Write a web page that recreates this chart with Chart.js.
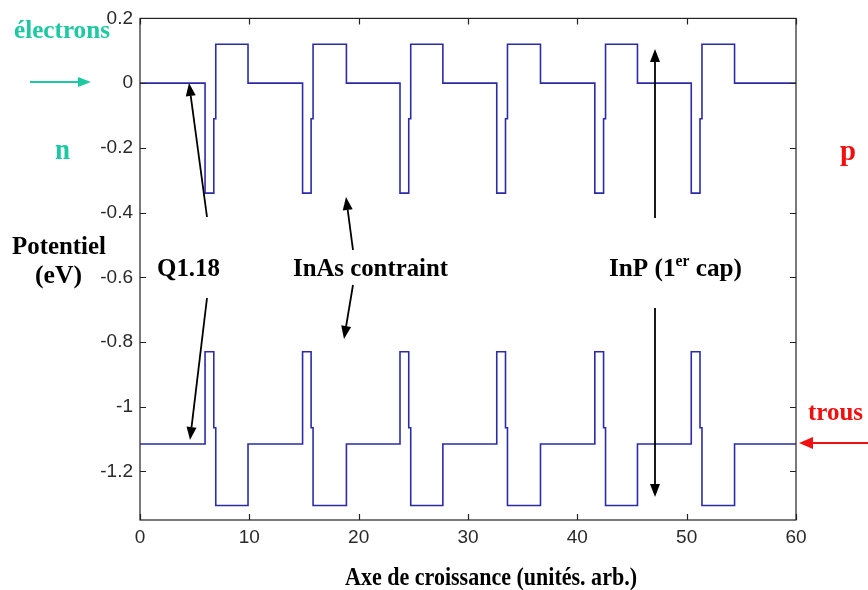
<!DOCTYPE html>
<html>
<head>
<meta charset="utf-8">
<script src="https://cdn.jsdelivr.net/npm/chart.js@4.4.1/dist/chart.umd.min.js"></script>
<style>
  html, body { margin: 0; padding: 0; background: #fff; }
</style>
</head>
<body>
<canvas id="bandChart" width="868" height="590"></canvas>
<script>
// marches : la valeur vaut y[i] à partir de x[i] (jusqu'au point suivant)
var posX = [0, 5.95, 6.75, 6.93, 9.88, 14.87, 15.65, 15.83, 18.88, 23.78, 24.58, 24.76, 27.7,
            32.63, 33.43, 33.61, 36.63, 41.6, 42.4, 42.58, 45.5, 50.42, 51.22, 51.4, 54.38, 60];
// bande de conduction (électrons)
var bcValues = [0, -0.34, -0.11, 0.12, 0, -0.34, -0.11, 0.12, 0, -0.34, -0.11, 0.12, 0,
                -0.34, -0.11, 0.12, 0, -0.34, -0.11, 0.12, 0, -0.34, -0.11, 0.12, 0, 0];
// bande de valence (trous)
var bvValues = [-1.115, -0.83, -1.065, -1.305, -1.115, -0.83, -1.065, -1.305, -1.115, -0.83, -1.065, -1.305, -1.115,
                -0.83, -1.065, -1.305, -1.115, -0.83, -1.065, -1.305, -1.115, -0.83, -1.065, -1.305, -1.115, -1.115];
var xTicks = [0, 10, 20, 30, 40, 50, 60];
var yTicks = [0.2, 0, -0.2, -0.4, -0.6, -0.8, -1, -1.2];

var TEAL = '#1ec8a0';
var ROUGE = '#f01010';
var SERIF = '"Liberation Serif", "Times New Roman", serif';

function points(xs, ys) {
    return xs.map(function (x, i) { return { x: x, y: ys[i] }; });
}

// texte gras, bord gauche x, ligne de base y, étiré à la largeur voulue
function texte(ctx, str, x, y, size, color, width) {
    ctx.save();
    ctx.font = 'bold ' + size + 'px ' + SERIF;
    ctx.fillStyle = color;
    ctx.textAlign = 'left';
    ctx.textBaseline = 'alphabetic';
    var w = ctx.measureText(str).width;
    ctx.translate(x, y);
    ctx.scale(width ? width / w : 1, 1);
    ctx.fillText(str, 0, 0);
    ctx.restore();
}

function fleche(ctx, x1, y1, x2, y2, color, head, half) {
    var a = Math.atan2(y2 - y1, x2 - x1);
    var bx = x2 - head * Math.cos(a), by = y2 - head * Math.sin(a);
    ctx.save();
    ctx.strokeStyle = color;
    ctx.fillStyle = color;
    ctx.lineWidth = 1.8;
    ctx.beginPath();
    ctx.moveTo(x1, y1);
    ctx.lineTo(bx, by);
    ctx.stroke();
    ctx.beginPath();
    ctx.moveTo(x2, y2);
    ctx.lineTo(bx + half * Math.sin(a), by - half * Math.cos(a));
    ctx.lineTo(bx - half * Math.sin(a), by + half * Math.cos(a));
    ctx.closePath();
    ctx.fill();
    ctx.restore();
}

var cadre = {
    id: 'cadre',
    afterDatasetsDraw: function (chart) {
        var ctx = chart.ctx, a = chart.chartArea;
        var sx = chart.scales.x, sy = chart.scales.y;
        ctx.save();
        ctx.strokeStyle = '#222';
        ctx.lineWidth = 1.2;
        ctx.strokeRect(a.left, a.top, a.right - a.left, a.bottom - a.top);
        ctx.beginPath();
        xTicks.forEach(function (v) {
            var p = Math.round(sx.getPixelForValue(v)) + 0.5;
            ctx.moveTo(p, a.bottom); ctx.lineTo(p, a.bottom - 6);
            ctx.moveTo(p, a.top); ctx.lineTo(p, a.top + 6);
        });
        yTicks.forEach(function (v) {
            var p = Math.round(sy.getPixelForValue(v)) + 0.5;
            ctx.moveTo(a.left, p); ctx.lineTo(a.left + 6, p);
            ctx.moveTo(a.right, p); ctx.lineTo(a.right - 6, p);
        });
        ctx.stroke();
        ctx.restore();
    },
    afterDraw: function (chart) {
        var ctx = chart.ctx;
        // côté n
        texte(ctx, 'électrons', 14, 38, 26, TEAL, 96);
        fleche(ctx, 30, 82, 91, 82, TEAL, 13, 5);
        texte(ctx, 'n', 55, 159, 30, TEAL, 15);
        // côté p
        texte(ctx, 'p', 840, 160, 30, ROUGE, 16);
        texte(ctx, 'trous', 808, 420, 25, ROUGE, 55);
        fleche(ctx, 868, 443, 799, 443, ROUGE, 14, 6);
        // axe vertical
        texte(ctx, 'Potentiel', 12, 254, 26, '#000', 94);
        texte(ctx, '(eV)', 35, 283, 26, '#000', 47);
        // couches
        texte(ctx, 'Q1.18', 157, 276, 26, '#000', 63);
        fleche(ctx, 207, 217, 189, 83, '#000', 13, 5);
        fleche(ctx, 207, 298, 190, 440, '#000', 13, 5);
        texte(ctx, 'InAs contraint', 293, 276, 26, '#000', 155);
        fleche(ctx, 353, 250, 346, 197, '#000', 13, 5);
        fleche(ctx, 353, 285, 344, 339, '#000', 13, 5);
        // InP (1er cap)
        ctx.save();
        ctx.font = 'bold 26px ' + SERIF;
        var w1 = ctx.measureText('InP (1').width, w3 = ctx.measureText(' cap)').width;
        ctx.font = 'bold 16px ' + SERIF;
        var w2 = ctx.measureText('er').width;
        ctx.restore();
        var k = 133 / (w1 + w2 + w3);
        texte(ctx, 'InP (1', 609, 276, 26, '#000', w1 * k);
        texte(ctx, 'er', 609 + w1 * k, 266, 16, '#000', w2 * k);
        texte(ctx, ' cap)', 609 + (w1 + w2) * k, 276, 26, '#000', w3 * k);
        fleche(ctx, 655, 218, 655, 49, '#000', 13, 5);
        fleche(ctx, 655, 308, 655, 497, '#000', 13, 5);
        // titre axe x
        texte(ctx, 'Axe de croissance (unités. arb.)', 345, 585, 25, '#000', 292);
    }
};

var tickFont = { family: '"Liberation Sans Narrow", "Liberation Sans", Arial, sans-serif', size: 19 };

new Chart(document.getElementById('bandChart').getContext('2d'), {
    type: 'line',
    data: {
        datasets: [{
            label: 'Bande de conduction',
            data: points(posX, bcValues),
            stepped: true,
            borderColor: '#2b2baa',
            borderWidth: 1.6,
            pointRadius: 0,
            fill: false
        }, {
            label: 'Bande de valence',
            data: points(posX, bvValues),
            stepped: true,
            borderColor: '#2b2baa',
            borderWidth: 1.6,
            pointRadius: 0,
            fill: false
        }]
    },
    options: {
        responsive: false,
        animation: false,
        layout: { padding: { top: 17, right: 72, left: 0, bottom: 0 } },
        plugins: {
            legend: { display: false },
            tooltip: { enabled: false }
        },
        scales: {
            x: {
                type: 'linear',
                min: 0,
                max: 60,
                afterFit: function (s) { s.height = 70; },
                afterBuildTicks: function (s) { s.ticks = xTicks.map(function (v) { return { value: v }; }); },
                grid: { display: false, drawTicks: false },
                border: { display: false },
                ticks: { color: '#2a2a2a', padding: 6, font: tickFont, maxRotation: 0, autoSkip: false }
            },
            y: {
                min: -1.35,
                max: 0.2,
                afterFit: function (s) { s.width = 140; },
                afterBuildTicks: function (s) { s.ticks = yTicks.map(function (v) { return { value: v }; }); },
                grid: { display: false, drawTicks: false },
                border: { display: false },
                ticks: {
                    color: '#2a2a2a', padding: 7, font: tickFont, autoSkip: false,
                    callback: function (v) { return String(Math.round(v * 10) / 10); }
                }
            }
        }
    },
    plugins: [cadre]
});
</script>
</body>
</html>
